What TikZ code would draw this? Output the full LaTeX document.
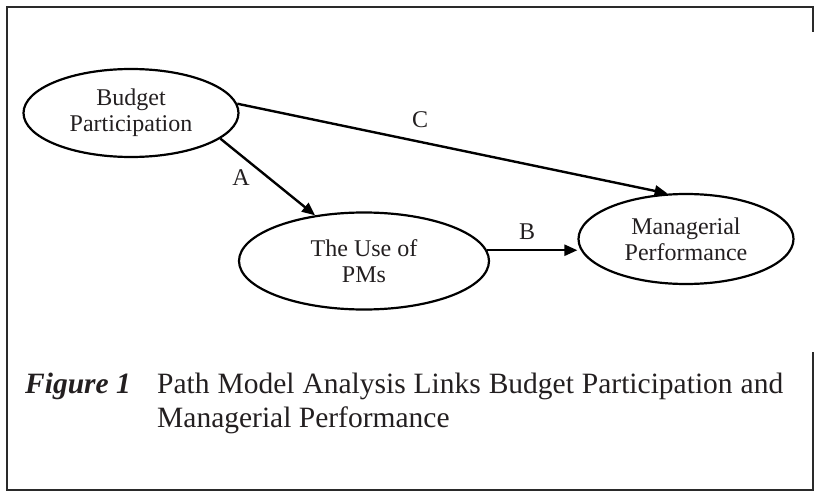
\documentclass[tikz,border=0pt]{standalone}
\usepackage{fontspec}
\setmainfont{Liberation Serif}
\usetikzlibrary{shapes.geometric,arrows.meta}
\definecolor{txt}{HTML}{231F20}
\definecolor{framec}{HTML}{2A2A2A}
\begin{document}
\begin{tikzpicture}[x=1pt,y=-1pt,
  var/.style={ellipse, draw, line width=2.2pt, inner sep=0pt, align=center,
    font=\fontsize{24}{26}\selectfont, text=txt},
  arr/.style={line width=2.4pt, -{Triangle[length=13pt,width=11pt]}},
  lbl/.style={font=\fontsize{24}{26}\selectfont, inner sep=0pt, text=txt},
  captext/.style={font=\fontsize{29.5}{35}\selectfont, inner sep=0pt, anchor=base west, text=txt},
  framel/.style={line width=2pt, draw=framec}]
\useasboundingbox (0,0) rectangle (816,492);
% frame
\draw[framel] (813,32) -- (813,7) -- (7,7) -- (7,490) -- (813,490) -- (813,352);
% variables
\node[var, minimum width=215pt, minimum height=88pt] (bp) at (131,113) {Budget\\Participation};
\node[var, minimum width=250pt, minimum height=97pt] (use) at (364,261) {The Use of\\PMs};
\node[var, minimum width=215pt, minimum height=90pt] (mp) at (686,239) {Managerial\\Performance};
% paths
\draw[arr] (bp.-16.5) -- (use.137.8);
\draw[arr] (bp.5.3) -- (mp.112.4);
\draw[arr] (use.5.9) -- (use.5.9 -| mp.west);
% labels
\node[lbl] (la) at (241,178) {A};
\node[lbl] (lb) at (527,232) {B};
\node[lbl] (lc) at (420,120) {C};
% caption
\node[captext, font=\fontsize{29.5}{35}\selectfont\bfseries\itshape] (fig) at (25,393) {Figure 1};
\node[captext] (cap1) at (157,393) {\makebox[626pt][s]{Path Model Analysis Links Budget Participation and}};
\node[captext] (cap2) at (157,427) {Managerial Performance};
\end{tikzpicture}
\end{document}
